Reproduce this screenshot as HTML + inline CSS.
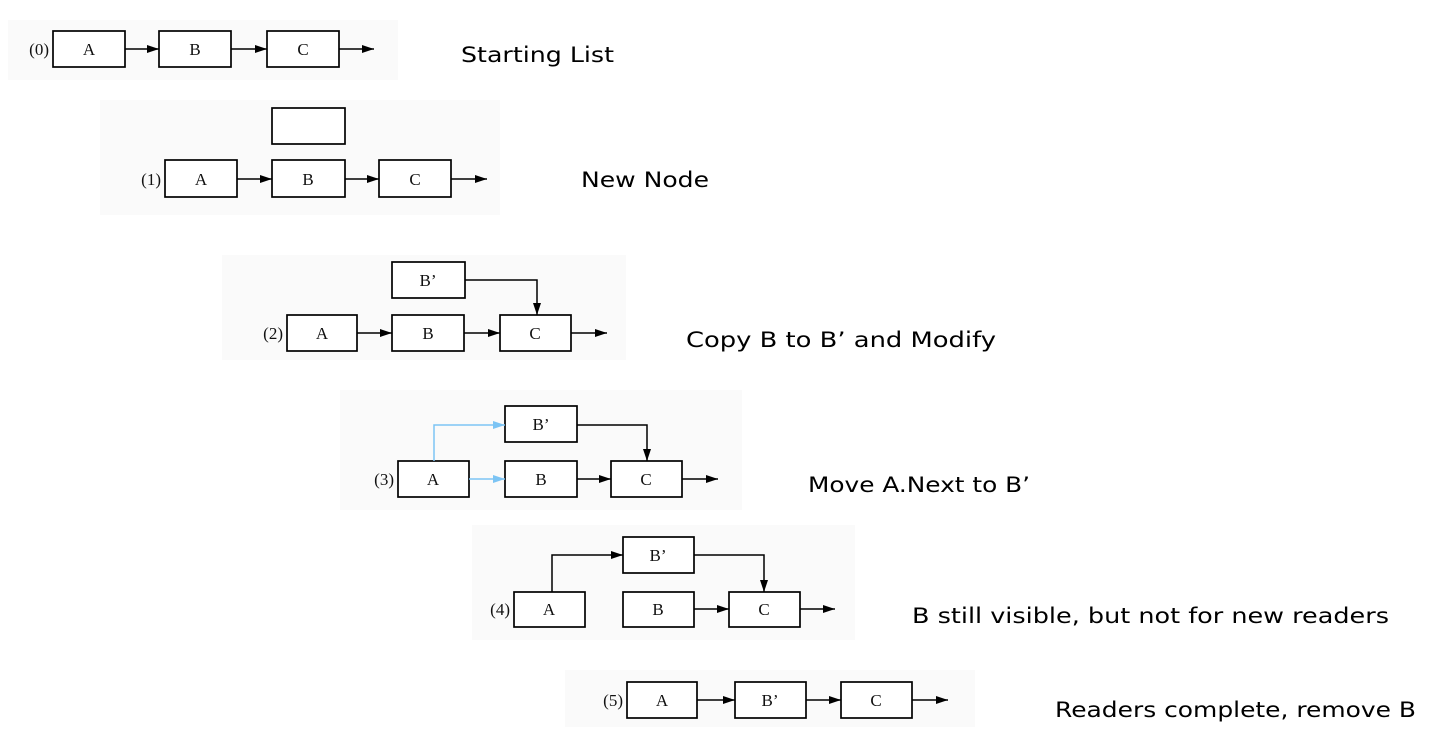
<!DOCTYPE html>
<html><head><style>html,body{margin:0;padding:0;background:#fff}svg{display:block}</style></head>
<body>
<svg width="1431" height="730" viewBox="0 0 1431 730" xmlns="http://www.w3.org/2000/svg">
<defs>
<marker id="ah" markerWidth="12" markerHeight="8" refX="12" refY="4" orient="auto" markerUnits="userSpaceOnUse"><path d="M0,0 L12,4 L0,8 z" fill="#000"/></marker>
<marker id="bh" markerWidth="12" markerHeight="8" refX="12" refY="4" orient="auto" markerUnits="userSpaceOnUse"><path d="M0,0 L12,4 L0,8 z" fill="#7cc4f4"/></marker>
</defs>
<g fill="#fafafa">
<rect x="8" y="20" width="390" height="60"/>
<rect x="100" y="100" width="400" height="115"/>
<rect x="222" y="255" width="404" height="105"/>
<rect x="340" y="390" width="402" height="120"/>
<rect x="472" y="525" width="383" height="115"/>
<rect x="565" y="670" width="410" height="57"/>
</g>
<g fill="#fff" stroke="#000" stroke-width="1.7">
<rect x="53" y="31" width="72" height="36"/><rect x="159" y="31" width="72" height="36"/><rect x="267" y="31" width="72" height="36"/>
<rect x="272" y="108" width="73" height="36"/>
<rect x="165" y="160" width="72" height="37"/><rect x="272" y="160" width="73" height="37"/><rect x="379" y="160" width="72" height="37"/>
<rect x="392" y="262" width="73" height="36"/>
<rect x="287" y="315" width="70" height="36"/><rect x="392" y="315" width="72" height="36"/><rect x="500" y="315" width="71" height="36"/>
<rect x="505" y="406" width="72" height="36"/>
<rect x="398" y="461" width="71" height="36"/><rect x="505" y="461" width="72" height="36"/><rect x="611" y="461" width="71" height="36"/>
<rect x="623" y="537" width="71" height="36"/>
<rect x="514" y="592" width="71" height="35"/><rect x="623" y="592" width="71" height="35"/><rect x="729" y="592" width="71" height="35"/>
<rect x="627" y="682" width="70" height="36"/><rect x="735" y="682" width="71" height="36"/><rect x="841" y="682" width="71" height="36"/>
</g>
<g stroke="#000" stroke-width="1.5" fill="none" marker-end="url(#ah)">
<line x1="125" y1="49" x2="159" y2="49"/><line x1="231" y1="49" x2="267" y2="49"/><line x1="339" y1="49" x2="374" y2="49"/>
<line x1="237" y1="179" x2="272" y2="179"/><line x1="345" y1="179" x2="379" y2="179"/><line x1="451" y1="179" x2="487" y2="179"/>
<line x1="357" y1="333" x2="392" y2="333"/><line x1="464" y1="333" x2="500" y2="333"/><line x1="571" y1="333" x2="607" y2="333"/>
<polyline points="465,280 537,280 537,315"/>
<line x1="577" y1="479" x2="611" y2="479"/><line x1="682" y1="479" x2="718" y2="479"/>
<polyline points="577,425 647,425 647,461"/>
<polyline points="552,592 552,555 623,555"/>
<polyline points="694,555 764,555 764,592"/>
<line x1="694" y1="609" x2="729" y2="609"/><line x1="800" y1="609" x2="835" y2="609"/>
<line x1="697" y1="700" x2="735" y2="700"/><line x1="806" y1="700" x2="841" y2="700"/><line x1="912" y1="700" x2="948" y2="700"/>
</g>
<g stroke="#7cc4f4" stroke-width="1.5" fill="none" marker-end="url(#bh)">
<polyline points="434,461 434,425 505,425"/>
<line x1="469" y1="479" x2="505" y2="479"/>
</g>
<g font-family="Liberation Serif, serif" font-size="17" text-anchor="middle" fill="#111">
<text x="89" y="55">A</text><text x="195" y="55">B</text><text x="303" y="55">C</text>
<text x="201" y="185">A</text><text x="308" y="185">B</text><text x="415" y="185">C</text>
<text x="428" y="286">B’</text>
<text x="322" y="339">A</text><text x="428" y="339">B</text><text x="535" y="339">C</text>
<text x="541" y="430">B’</text>
<text x="433" y="485">A</text><text x="541" y="485">B</text><text x="646" y="485">C</text>
<text x="658" y="561">B’</text>
<text x="549" y="615">A</text><text x="658" y="615">B</text><text x="764" y="615">C</text>
<text x="662" y="706">A</text><text x="770" y="706">B’</text><text x="876" y="706">C</text>
</g>
<g font-family="Liberation Serif, serif" font-size="17" text-anchor="end" fill="#111">
<text x="49" y="55">(0)</text><text x="161" y="185">(1)</text><text x="283" y="339">(2)</text>
<text x="394" y="485">(3)</text><text x="510" y="615">(4)</text><text x="623" y="706">(5)</text>
</g>
<g font-family="DejaVu Sans, sans-serif" font-size="21" fill="#000">
<text x="461" y="62" textLength="153" lengthAdjust="spacingAndGlyphs">Starting List</text>
<text x="581" y="187" textLength="128" lengthAdjust="spacingAndGlyphs">New Node</text>
<text x="686" y="347" textLength="310" lengthAdjust="spacingAndGlyphs">Copy B to B’ and Modify</text>
<text x="808" y="492" textLength="222" lengthAdjust="spacingAndGlyphs">Move A.Next to B’</text>
<text x="912" y="623" textLength="477" lengthAdjust="spacingAndGlyphs">B still visible, but not for new readers</text>
<text x="1055" y="717" textLength="361" lengthAdjust="spacingAndGlyphs">Readers complete, remove B</text>
</g>
</svg>
</body></html>
